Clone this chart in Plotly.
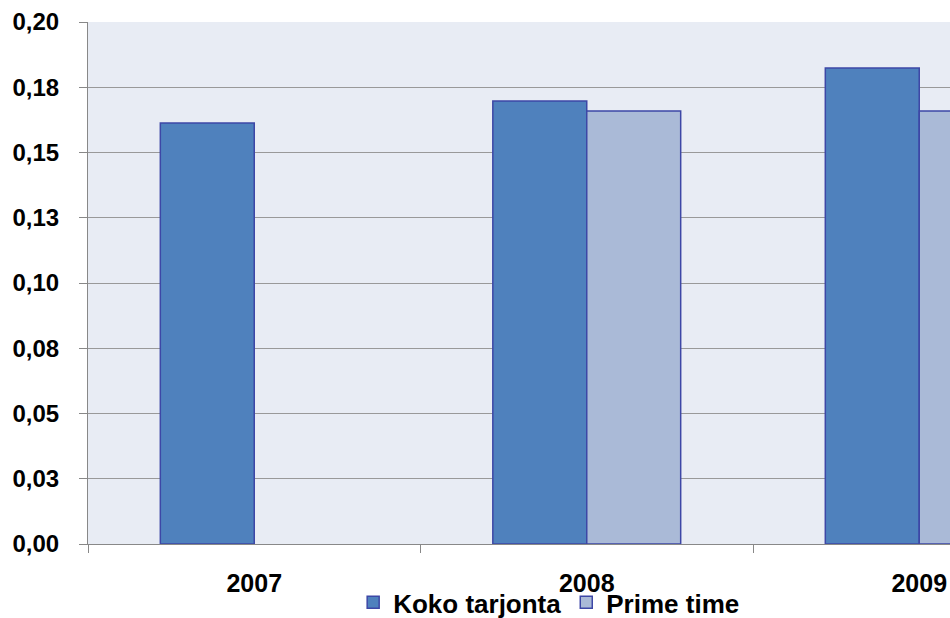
import plotly.graph_objects as go

years = ["2007", "2008", "2009"]
koko_tarjonta = [0.1613, 0.1697, 0.1824]
prime_time = [None, 0.1659, 0.1659]

y_tickvals = [0, 0.025, 0.05, 0.075, 0.1, 0.125, 0.15, 0.175, 0.2]
y_ticktext = ["0,00", "0,03", "0,05", "0,08", "0,10", "0,13", "0,15", "0,18", "0,20"]

OUTLINE = "#3D47A6"
FONT = "Liberation Sans"

fig = go.Figure()
fig.add_trace(
    go.Bar(
        x=years,
        y=koko_tarjonta,
        name="<b>Koko tarjonta</b>",
        marker=dict(color="#4F81BD", line=dict(color=OUTLINE, width=1.5)),
    )
)
fig.add_trace(
    go.Bar(
        x=years,
        y=prime_time,
        name="<b>Prime time</b>",
        marker=dict(color="#AABAD7", line=dict(color=OUTLINE, width=1.5)),
    )
)

# figure is a bit taller than the window so the legend fits without
# pushing the plot margins; the page body margin is removed below
fig.update_layout(
    width=950,
    height=640,
    barmode="group",
    bargap=0.435,
    bargroupgap=0,
    paper_bgcolor="white",
    plot_bgcolor="#E8ECF4",
    margin=dict(l=88, r=0, t=22, b=96),
    font=dict(family=FONT, color="black"),
    legend=dict(
        orientation="h",
        x=0.535,
        xanchor="center",
        y=-0.112,
        yanchor="middle",
        itemwidth=30,
        font=dict(size=26, family=FONT, color="black"),
        bgcolor="rgba(0,0,0,0)",
    ),
    xaxis=dict(
        type="category",
        range=[-0.5, 2.0925],
        tickson="boundaries",
        ticks="outside",
        ticklen=8,
        tickcolor="#888888",
        showline=True,
        linecolor="#888888",
        linewidth=1,
        showgrid=False,
        tickfont=dict(size=25, family=FONT, color="black", weight="bold"),
        ticklabelstandoff=17,
    ),
    yaxis=dict(
        range=[0, 0.2],
        tickvals=y_tickvals,
        ticktext=y_ticktext,
        ticks="outside",
        ticklen=8,
        tickcolor="#888888",
        showline=True,
        linecolor="#888888",
        linewidth=1,
        showgrid=True,
        gridcolor="#999999",
        gridwidth=1,
        zeroline=False,
        tickfont=dict(size=24, family=FONT, color="black", weight="bold"),
        ticklabelstandoff=15,
    ),
)

fig.write_html(
    "out.html",
    config={"displayModeBar": False},
    post_script="document.body.style.margin='0';document.body.style.overflow='hidden';",
)
